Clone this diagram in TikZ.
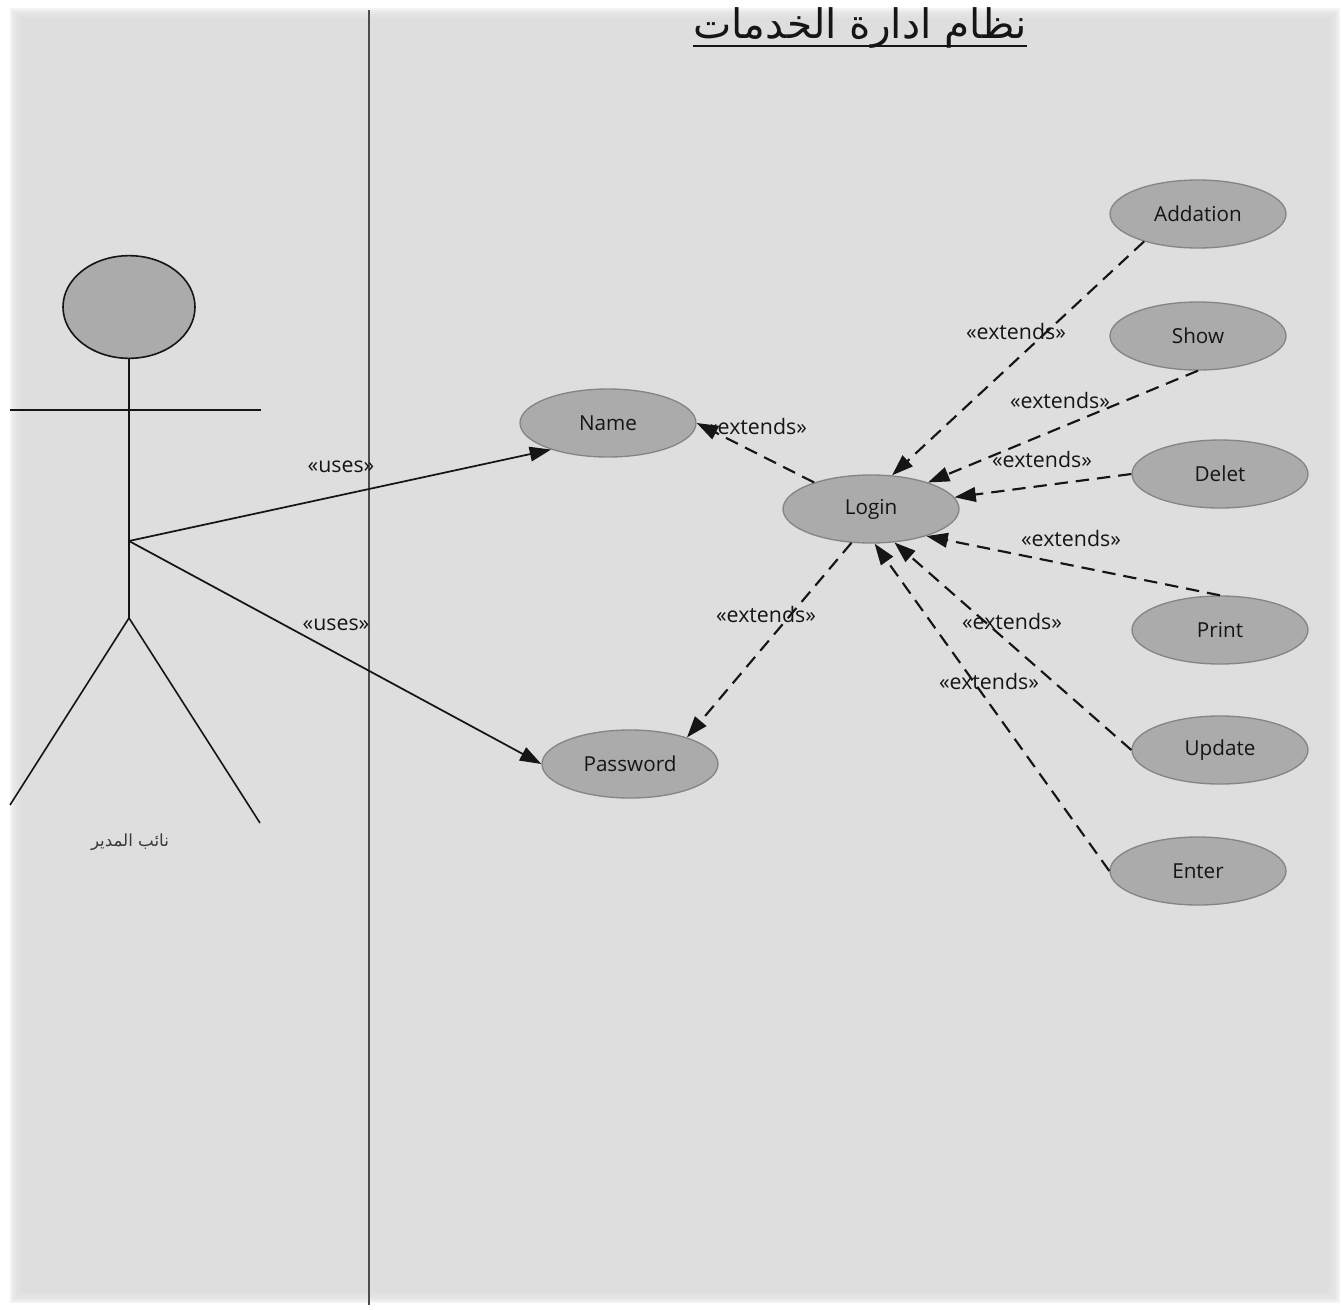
\documentclass[tikz,border=0pt]{standalone}
\usepackage{fontspec}
\setmainfont{Open Sans}
\newfontfamily\arabicfont[Script=Arabic]{DejaVu Sans}
\TeXXeTstate=1
\usetikzlibrary{arrows.meta,shapes.geometric}

\definecolor{panel}{HTML}{DEDEDE}
\definecolor{ucfill}{HTML}{ABABAB}
\definecolor{ucline}{HTML}{858585}
\definecolor{ink}{HTML}{151515}

\tikzset{
  usecase/.style={ellipse, draw=ucline, line width=1pt, fill=ucfill,
    minimum width=132pt, minimum height=51pt, inner sep=0pt,
    font=\fontsize{15.5}{17}\selectfont, text=ink},
  stick/.style={draw=ink, line width=1.2pt},
  uses/.style={draw=ink, line width=1.3pt, -{Triangle[length=16pt,width=11pt]}},
  extends/.style={draw=ink, line width=1.6pt, dash pattern=on 10pt off 6pt,
    -{Triangle[length=16pt,width=11pt]}},
  tag/.style={font=\fontsize{16}{18}\selectfont, text=ink, inner sep=0pt},
}

\begin{document}
\begin{tikzpicture}[x=0.75pt,y=-0.75pt]
  % page and soft-edged panel
  \useasboundingbox (0,0) rectangle (1341,1309);
  \fill[white] (0,0) rectangle (1341,1309);
  \foreach \i in {0,...,5}
    \fill[panel, opacity=0.35] (10+2*\i,8+2*\i) rectangle (1340-2*\i,1303-2*\i);
  \fill[panel] (22,18) rectangle (1328,1292);

  % system boundary
  \draw[draw=black!70, line width=1.5pt] (369,10) -- (369,1305);

  % title
  \node[inner sep=0pt, text=ink, font=\arabicfont\fontsize{30.5}{34}\selectfont]
    (title) at (860,28) {\beginR نظام ادارة الخدمات\endR};
  \draw[ink, line width=1.6pt] (title.south west |- 0,46) -- (title.south east |- 0,46);

  % actor
  \node[ellipse, draw=ink, line width=1.2pt, fill=ucfill, minimum width=99pt,
    minimum height=77pt, inner sep=0pt] (head) at (129,307) {};
  \coordinate (hip) at (129,618);
  \coordinate (hub) at (129,541);
  \coordinate (handL) at (10,410);
  \coordinate (handR) at (261,410);
  \coordinate (footL) at (10,805);
  \coordinate (footR) at (260,823);
  \draw[stick] (head.south) -- (hip);
  \draw[stick] (handL) -- (handR);
  \draw[stick] (footL) -- (hip) -- (footR);
  \node[inner sep=0pt, text=ink!85, font=\arabicfont\fontsize{12.5}{14}\selectfont]
    (actorname) at (130,842) {\beginR نائب المدير\endR};

  % use cases
  \node[usecase] (name) at (608,423) {Name};
  \node[usecase] (password) at (630,764) {Password};
  \node[usecase] (login) at (871,509) {Login};
  \node[usecase] (addation) at (1198,214) {Addation};
  \node[usecase] (show) at (1198,336) {Show};
  \node[usecase] (delet) at (1220,474) {Delet};
  \node[usecase] (print) at (1220,630) {Print};
  \node[usecase] (update) at (1220,750) {Update};
  \node[usecase] (enter) at (1198,871) {Enter};

  % uses relations
  \draw[uses] (hub) -- (name.-155);
  \draw[uses] (hub) -- (password.west);
  \node[tag] at (341,467) {«uses»};
  \node[tag] at (336,625) {«uses»};

  % extends relations
  \draw[extends] (login.155) -- (name.east);
  \draw[extends] (login.-120) -- (password.25);
  \draw[extends] (addation.-153) -- (login.58);
  \draw[extends] (show.south) -- (login.25);
  \draw[extends] (delet.west) -- (login.8);
  \draw[extends] (print.north) -- (login.-26);
  \draw[extends] (update.west) -- (login.-55);
  \draw[extends] (enter.west) -- (login.-84);

  \node[tag] at (757,426) {«extends»};
  \node[tag] at (766,614) {«extends»};
  \node[tag] at (1016,331) {«extends»};
  \node[tag] at (1060,400) {«extends»};
  \node[tag] at (1042,459) {«extends»};
  \node[tag] at (1071,538) {«extends»};
  \node[tag] at (1012,621) {«extends»};
  \node[tag] at (989,681) {«extends»};
\end{tikzpicture}
\end{document}
